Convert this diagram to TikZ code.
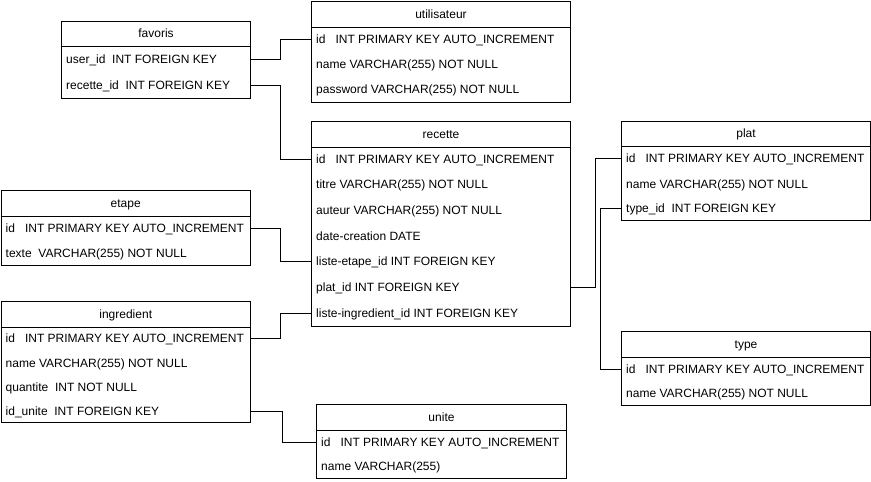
\documentclass[tikz,border=0pt]{standalone}
\usepackage{fontspec}
\setmainfont{Liberation Sans}
\begin{document}
\begin{tikzpicture}[x=1pt,y=-1pt,
  tbl/.style={draw=black, line width=1pt, fill=white, anchor=north west, inner sep=0pt},
  hdr/.style={font=\fontsize{12}{14}\selectfont, inner sep=0pt, text height=8.6pt, text depth=0pt},
  fld/.style={font=\fontsize{12}{14}\selectfont, anchor=west, inner sep=0pt, text height=8.6pt, text depth=0pt},
  link/.style={draw=black, line width=1pt}]
\useasboundingbox (0,0) rectangle (871,482);

% ---------- boxes ----------
\node[tbl, minimum width=189pt, minimum height=77pt] (fav) at (61,21) {};
\node[tbl, minimum width=259pt, minimum height=101pt] (util) at (311,1) {};
\node[tbl, minimum width=259pt, minimum height=205pt] (rec) at (311,121) {};
\node[tbl, minimum width=249.5pt, minimum height=75pt] (etape) at (0.5,190) {};
\node[tbl, minimum width=249.5pt, minimum height=121pt] (ing) at (0.5,301) {};
\node[tbl, minimum width=250pt, minimum height=74pt] (unite) at (316,404) {};
\node[tbl, minimum width=249pt, minimum height=99pt] (plat) at (621,121) {};
\node[tbl, minimum width=249pt, minimum height=74pt] (type) at (621,331) {};

% header separators
\draw[link] ([yshift=-25pt]fav.north west) -- ([yshift=-25pt]fav.north east);
\draw[link] ([yshift=-26pt]util.north west) -- ([yshift=-26pt]util.north east);
\draw[link] ([yshift=-26pt]rec.north west) -- ([yshift=-26pt]rec.north east);
\draw[link] ([yshift=-26pt]etape.north west) -- ([yshift=-26pt]etape.north east);
\draw[link] ([yshift=-26pt]ing.north west) -- ([yshift=-26pt]ing.north east);
\draw[link] ([yshift=-26pt]unite.north west) -- ([yshift=-26pt]unite.north east);
\draw[link] ([yshift=-25pt]plat.north west) -- ([yshift=-25pt]plat.north east);
\draw[link] ([yshift=-26pt]type.north west) -- ([yshift=-26pt]type.north east);

% header texts
\node[hdr] (favt) at ([yshift=-12.5pt]fav.north) {favoris};
\node[hdr] (utilt) at ([yshift=-13pt]util.north) {utilisateur};
\node[hdr] (rect) at ([yshift=-13pt]rec.north) {recette};
\node[hdr] (etapet) at ([yshift=-13pt]etape.north) {etape};
\node[hdr] (ingt) at ([yshift=-13pt]ing.north) {ingredient};
\node[hdr] (unitet) at ([yshift=-13pt]unite.north) {unite};
\node[hdr] (platt) at ([yshift=-12.5pt]plat.north) {plat};
\node[hdr] (typet) at ([yshift=-13pt]type.north) {type};

% ---------- fields ----------
\node[fld] (favuser) at (66,59.5) {user\_id~~INT FOREIGN KEY};
\node[fld] (favrec) at (66,85) {recette\_id~~INT FOREIGN KEY};

\node[fld] (utilid) at (316,39.5) {id~~~INT PRIMARY KEY AUTO\_INCREMENT};
\node[fld] (utilname) at (316,64) {name VARCHAR(255) NOT NULL};
\node[fld] (utilpw) at (316,89) {password VARCHAR(255) NOT NULL};

\node[fld] (recid) at (316,159) {id~~~INT PRIMARY KEY AUTO\_INCREMENT};
\node[fld] (rectitre) at (316,184) {titre VARCHAR(255) NOT NULL};
\node[fld] (recauteur) at (316,210) {auteur VARCHAR(255) NOT NULL};
\node[fld] (recdate) at (316,236) {date-creation DATE};
\node[fld] (recetape) at (316,261) {liste-etape\_id INT FOREIGN KEY};
\node[fld] (recplat) at (316,287) {plat\_id INT FOREIGN KEY};
\node[fld] (recing) at (316,313) {liste-ingredient\_id INT FOREIGN KEY};

\node[fld] (etid) at (5.5,228.5) {id~~~INT PRIMARY KEY AUTO\_INCREMENT};
\node[fld] (ettexte) at (5.5,253) {texte~~VARCHAR(255) NOT NULL};

\node[fld] (ingid) at (5.5,338.5) {id~~~INT PRIMARY KEY AUTO\_INCREMENT};
\node[fld] (ingname) at (5.5,363) {name VARCHAR(255) NOT NULL};
\node[fld] (ingqte) at (5.5,387) {quantite~~INT NOT NULL};
\node[fld] (ingunite) at (5.5,411) {id\_unite~~INT FOREIGN KEY};

\node[fld] (uniteid) at (321,442) {id~~~INT PRIMARY KEY AUTO\_INCREMENT};
\node[fld] (unitename) at (321,466) {name VARCHAR(255)};

\node[fld] (platid) at (626,158.5) {id~~~INT PRIMARY KEY AUTO\_INCREMENT};
\node[fld] (platname) at (626,184) {name VARCHAR(255) NOT NULL};
\node[fld] (plattype) at (626,208) {type\_id~~INT FOREIGN KEY};

\node[fld] (typeid) at (626,369) {id~~~INT PRIMARY KEY AUTO\_INCREMENT};
\node[fld] (typename) at (626,393) {name VARCHAR(255) NOT NULL};

% ---------- connectors ----------
\coordinate (b1) at (280.5,0);
\coordinate (b2) at (282.5,0);
\coordinate (b3) at (595.5,0);
\coordinate (b4) at (600.5,0);

\draw[link] (fav.east |- favuser) -- (b1 |- favuser) -- (b1 |- utilid) -- (util.west |- utilid);
\draw[link] (fav.east |- favrec) -- (b1 |- favrec) -- (b1 |- recid) -- (rec.west |- recid);
\draw[link] (etape.east |- etid) -- (b1 |- etid) -- (b1 |- recetape) -- (rec.west |- recetape);
\draw[link] (ing.east |- ingid) -- (b1 |- ingid) -- (b1 |- recing) -- (rec.west |- recing);
\draw[link] (ing.east |- ingunite) -- (b2 |- ingunite) -- (b2 |- uniteid) -- (unite.west |- uniteid);
\draw[link] (rec.east |- recplat) -- (b3 |- recplat) -- (b3 |- platid) -- (plat.west |- platid);
\draw[link] (plat.west |- plattype) -- (b4 |- plattype) -- (b4 |- typeid) -- (type.west |- typeid);
\end{tikzpicture}
\end{document}
